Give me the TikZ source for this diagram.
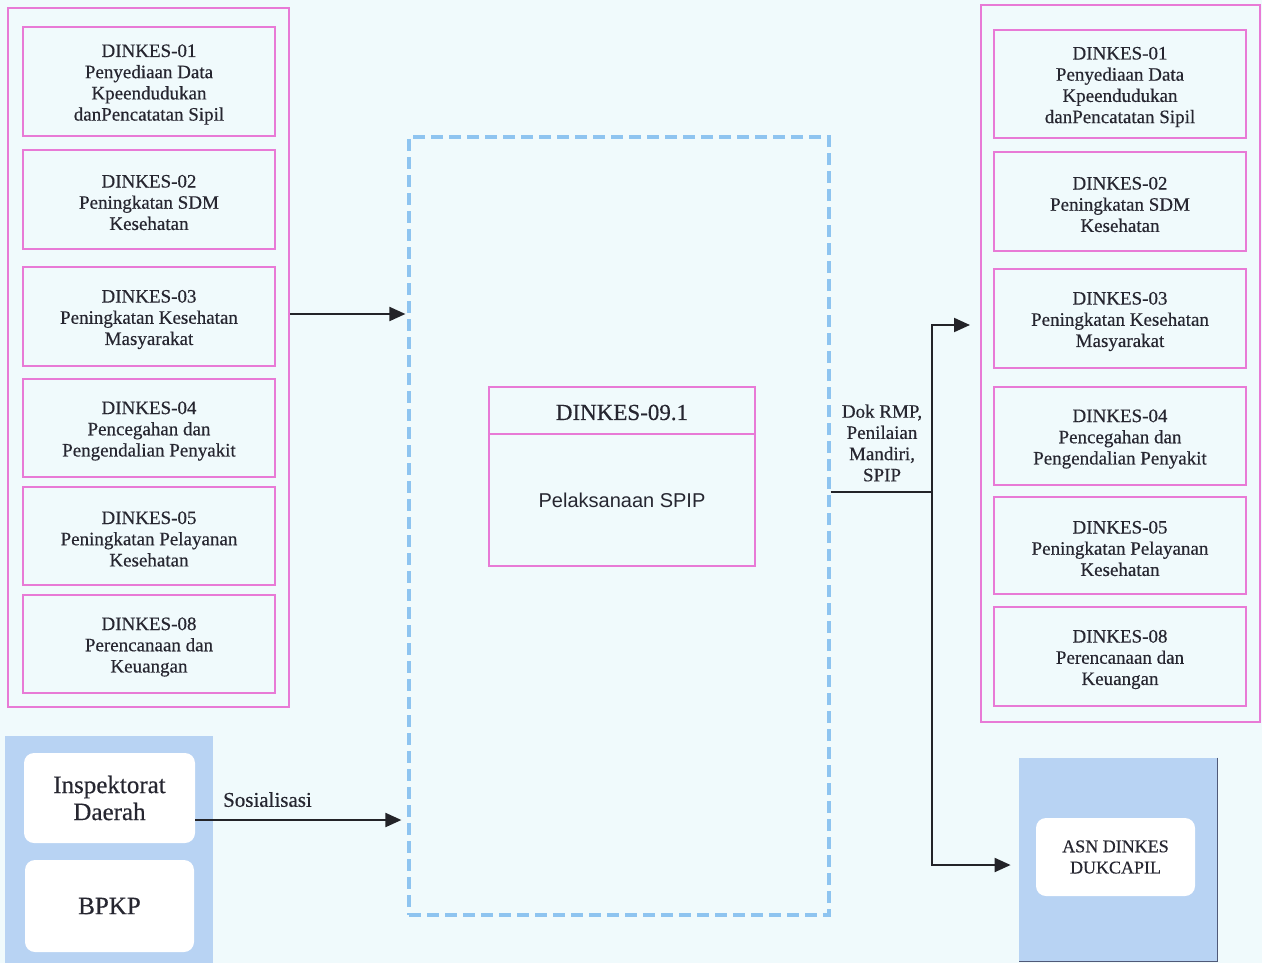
\documentclass[tikz,border=0pt]{standalone}
\usepackage{fontspec}
\setmainfont{Liberation Serif}[FakeBold=0.4]
\newfontfamily\arialfont{Liberation Sans}
\usetikzlibrary{arrows.meta,fit,calc}
\definecolor{bgc}{RGB}{240,250,252}
\definecolor{pinkc}{RGB}{232,122,214}
\definecolor{dashc}{RGB}{142,196,240}
\definecolor{bluec}{RGB}{184,211,243}
\definecolor{edgec}{RGB}{80,90,120}
\definecolor{txt}{RGB}{38,38,48}
\definecolor{arrc}{RGB}{35,35,40}
\tikzset{
  outerbox/.style={draw=pinkc, line width=1pt, inner sep=0pt},
  unitbox/.style={draw=pinkc, line width=1pt, inner sep=0pt},
  dashbox/.style={draw=dashc, line width=1.6pt, dash pattern=on 6pt off 3pt, inner sep=0pt},
  bluebox/.style={fill=bluec, draw=none, inner sep=0pt},
  whitebox/.style={fill=white, draw=none, rounded corners=5pt, inner sep=0pt},
  lbl/.style={text=txt, align=center, inner sep=0pt},
  unittext/.style={lbl, font=\fontsize{9.5}{10.6}\selectfont, yshift=-1.5pt},
  conn/.style={line width=1pt, draw=arrc},
  arr/.style={conn, -{Triangle[length=8pt,width=7pt]}},
}
\begin{document}
\begin{tikzpicture}[x=0.5pt,y=-0.5pt]
  % page
  \fill[bgc] (0,0) rectangle (1262,963);
  \useasboundingbox (0,0) rectangle (1262,963);

  % left column of units
  \node[outerbox, fit={(8,8)(289,707)}] (Lout) {};
  \node[unitbox, fit={(23,27)(275,136)}, label={[unittext]center:DINKES-01\\Penyediaan Data\\Kpeendudukan\\danPencatatan Sipil}] (L1) {};
  \node[unitbox, fit={(23,150)(275,249)}, label={[unittext]center:DINKES-02\\Peningkatan SDM\\Kesehatan}] (L2) {};
  \node[unitbox, fit={(23,267)(275,366)}, label={[unittext]center:DINKES-03\\Peningkatan Kesehatan\\Masyarakat}] (L3) {};
  \node[unitbox, fit={(23,379)(275,477)}, label={[unittext]center:DINKES-04\\Pencegahan dan\\Pengendalian Penyakit}] (L4) {};
  \node[unitbox, fit={(23,487)(275,585)}, label={[unittext]center:DINKES-05\\Peningkatan Pelayanan\\Kesehatan}] (L5) {};
  \node[unitbox, fit={(23,595)(275,693)}, label={[unittext]center:DINKES-08\\Perencanaan dan\\Keuangan}] (L6) {};

  % right column of units
  \node[outerbox, fit={(981,5)(1260,722)}] (Rout) {};
  \node[unitbox, fit={(994,30)(1246,138)}, label={[unittext]center:DINKES-01\\Penyediaan Data\\Kpeendudukan\\danPencatatan Sipil}] (R1) {};
  \node[unitbox, fit={(994,152)(1246,251)}, label={[unittext]center:DINKES-02\\Peningkatan SDM\\Kesehatan}] (R2) {};
  \node[unitbox, fit={(994,269)(1246,368)}, label={[unittext]center:DINKES-03\\Peningkatan Kesehatan\\Masyarakat}] (R3) {};
  \node[unitbox, fit={(994,387)(1246,485)}, label={[unittext]center:DINKES-04\\Pencegahan dan\\Pengendalian Penyakit}] (R4) {};
  \node[unitbox, fit={(994,497)(1246,594)}, label={[unittext]center:DINKES-05\\Peningkatan Pelayanan\\Kesehatan}] (R5) {};
  \node[unitbox, fit={(994,607)(1246,706)}, label={[unittext]center:DINKES-08\\Perencanaan dan\\Keuangan}] (R6) {};

  % central process area
  \node[dashbox, fit={(409,137)(829,915)}] (dash) {};
  \node[unitbox, fit={(489,387)(755,566)}] (spip) {};
  \node[unitbox, fit={(489,387)(755,434)},
    label={[lbl, font=\fontsize{11.5}{13}\selectfont, yshift=-1pt]center:DINKES-09.1}] (spiphead) {};
  \node[lbl, font=\arialfont\fontsize{10}{12}\selectfont] (spipbody) at (622,500) {Pelaksanaan SPIP};

  % supervising bodies
  \node[bluebox, fit={(5,736)(213,963)}] (sup) {};
  \node[whitebox, fit={(24,753)(195,843)},
    label={[lbl, font=\fontsize{12.5}{13.5}\selectfont]center:Inspektorat\\Daerah}] (insp) {};
  \node[whitebox, fit={(25,860)(194,952)},
    label={[lbl, font=\fontsize{12.5}{13.5}\selectfont]center:BPKP}] (bpkp) {};

  % recipients
  \node[bluebox, fit={(1019,758)(1217,961)}] (asnC) {};
  \draw[edgec, line width=0.8pt] (asnC.north east) -- (asnC.south east) -- (asnC.south west);
  \node[whitebox, fit={(1036,818)(1195,896)},
    label={[lbl, font=\fontsize{9}{10.6}\selectfont]center:ASN DINKES\\DUKCAPIL}] (asn) {};

  % flows
  \coordinate (inY) at (0,314);
  \coordinate (sosY) at (0,820);
  \draw[arr, shorten >=1pt] (Lout.east |- inY) -- (dash.west |- inY);
  \draw[arr, shorten >=3pt] (insp.east |- sosY) -- (dash.west |- sosY)
    node[lbl, pos=0.34, above=6pt, font=\fontsize{10.5}{12}\selectfont] (sos) {Sosialisasi};

  \coordinate (bus) at (932,492);
  \coordinate (busTop) at (932,325);
  \coordinate (busBot) at (932,865);
  \draw[conn] (dash.east |- bus) -- (bus);
  \draw[arr, shorten >=5pt] (bus) -- (busTop) -- (busTop -| Rout.west);
  \draw[arr, shorten >=4pt] (bus) -- (busBot) -- (busBot -| asnC.west);
  \node[lbl, font=\fontsize{9.5}{10.6}\selectfont] (dok) at (882,443) {Dok RMP,\\Penilaian\\Mandiri,\\SPIP};
\end{tikzpicture}
\end{document}
